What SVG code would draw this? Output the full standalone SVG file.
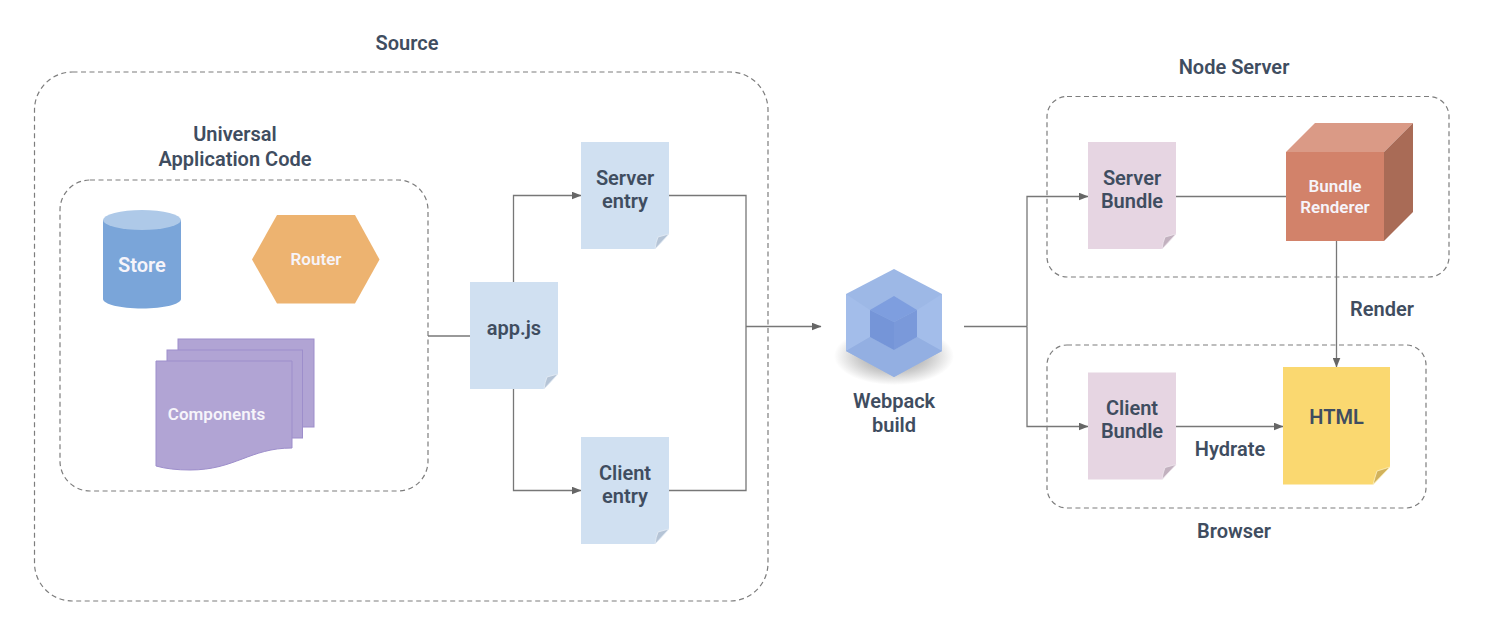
<svg xmlns="http://www.w3.org/2000/svg" width="1494" height="640" viewBox="0 0 1494 640">
<style>
text{font-family:Roboto,"Liberation Sans",sans-serif;font-weight:600;text-anchor:middle;fill:#3f4d60;font-size:20px}
.w{fill:#f6f4fa;font-size:17px}
.box{fill:none;stroke:#7d7d7d;stroke-width:1.2;stroke-dasharray:5 3.5}
.c{fill:none;stroke:#777;stroke-width:1.3}
.blue{fill:#d0e0f1}.pink{fill:#e6d5e2}
.bf{fill:#b5c4d6;stroke:#e4ecf5;stroke-width:.8}.pf{fill:#c2b1bf;stroke:#efe6ed;stroke-width:.8}
.p{fill:#b1a4d4;stroke:#9d8ecb;stroke-width:1}
</style>
<defs>
<marker id="a" markerWidth="10" markerHeight="8" refX="9.500" refY="4" markerUnits="userSpaceOnUse" orient="auto"><path d="M0 0L10 4L0 8Z" fill="#666"/></marker>
<path id="doc" d="M0 0H88V92L74 107H0Z"/>
<path id="fold" d="M74 107L88 92L77 95Q75 100 74 107Z"/>
<radialGradient id="s"><stop offset="0" stop-color="#444" stop-opacity=".65"/><stop offset=".6" stop-color="#555" stop-opacity=".3"/><stop offset="1" stop-color="#555" stop-opacity="0"/></radialGradient>
</defs>
<g id="source"><rect class="box" x="34.500" y="72" width="733.500" height="529" rx="38"/><text x="407" y="50">Source</text></g>
<g id="universal"><rect class="box" x="60" y="180" width="368" height="311" rx="30"/><text x="235" y="141">Universal</text><text x="235" y="166">Application Code</text></g>
<g id="connectors">
<path class="c" d="M428 336H470"/>
<path class="c" marker-end="url(#a)" d="M513.500 282V195.500H581"/>
<path class="c" marker-end="url(#a)" d="M513.500 388V490.500H581"/>
<path class="c" d="M669 195.500H746V490.500H669"/>
<path class="c" marker-end="url(#a)" d="M746 326.500H821"/>
<path class="c" d="M964 326.500H1027"/>
<path class="c" marker-end="url(#a)" d="M1027 326.500V196.500H1088"/>
<path class="c" marker-end="url(#a)" d="M1027 326.500V426.500H1088"/>
<path class="c" d="M1176 196.500H1286"/>
<path class="c" marker-end="url(#a)" d="M1336.500 241V367"/>
<path class="c" marker-end="url(#a)" d="M1176 426.500H1283"/>
</g>
<g id="store"><path d="M103 220V299C103 304 120 308.500 142 308.500S181 304 181 299V220Z" fill="#7aa5d9"/><ellipse cx="142" cy="220" rx="39" ry="10" fill="#aec9e8"/><text class="w" style="font-size:20px" x="142" y="272">Store</text></g>
<g id="router"><path d="M252 259.500L277 215H355L379.500 259.500L355 303.500H277Z" fill="#edb370"/><text class="w" x="316" y="265">Router</text></g>
<g id="components">
<rect class="p" x="178" y="339" width="136" height="88"/>
<rect class="p" x="167" y="350" width="135.500" height="88"/>
<path class="p" d="M156 361H292V448C250 448 235 470 190 470Q170 470 156 466Z"/>
<text class="w" x="216.500" y="420">Components</text></g>
<g id="appjs" transform="translate(470 282)"><use href="#doc" class="blue"/><use href="#fold" class="bf"/><text x="44" y="53">app.js</text></g>
<g id="server-entry" transform="translate(581 142)"><use href="#doc" class="blue"/><use href="#fold" class="bf"/><text x="44" y="42.500">Server</text><text x="44" y="65.500">entry</text></g>
<g id="client-entry" transform="translate(581 437)"><use href="#doc" class="blue"/><use href="#fold" class="bf"/><text x="44" y="42.500">Client</text><text x="44" y="65.500">entry</text></g>
<g id="webpack">
<ellipse cx="894" cy="356" rx="60" ry="29" fill="url(#s)"/>
<path d="M894 269L942 294V351L894 377L846 351V294Z" fill="#9db8e6"/>
<path d="M846 294L870 310V337L846 351Z M942 294L917 310V337L942 351Z" fill="#a3bdea"/>
<path d="M846 351L870 337L894 350L917 337L942 351L894 377Z" fill="#93afe2"/>
<path d="M894 296L917 310L894 322L870 310Z" fill="#7e9edf"/>
<path d="M870 310L894 322V350L870 337Z" fill="#7595d8"/>
<path d="M917 310L894 322V350L917 337Z" fill="#7a99da"/>
<text x="894" y="408">Webpack</text><text x="894" y="431.500">build</text></g>
<g id="node-server"><rect class="box" x="1047" y="96.500" width="402" height="180.500" rx="20"/><text x="1234" y="74">Node Server</text></g>
<g id="browser"><rect class="box" x="1047" y="345" width="379" height="163" rx="20"/><text x="1234" y="538">Browser</text></g>
<g id="server-bundle" transform="translate(1088 142)"><use href="#doc" class="pink"/><use href="#fold" class="pf"/><text x="44" y="42.500">Server</text><text x="44" y="65.500">Bundle</text></g>
<g id="client-bundle" transform="translate(1088 372.500)"><use href="#doc" class="pink"/><use href="#fold" class="pf"/><text x="44" y="42">Client</text><text x="44" y="65.500">Bundle</text></g>
<g id="bundle-renderer">
<path d="M1286 152L1315 123H1413L1384 152Z" fill="#da9a86"/>
<path d="M1384 152L1413 123V212L1384 241Z" fill="#a96b56"/>
<rect x="1286" y="152" width="98" height="89" fill="#d2826a"/>
<text class="w" x="1335" y="192">Bundle</text><text class="w" x="1335" y="213">Renderer</text></g>
<g id="html"><path d="M1283 367H1390V467L1373 484.500H1283Z" fill="#fad870"/><path d="M1373 484.500L1390 467L1377 471Q1375 477 1373 484.500Z" fill="#d1b25c" stroke="#fdf0c0" stroke-width=".8"/><text x="1336.500" y="424">HTML</text></g>
<text x="1382" y="316">Render</text>
<text x="1230" y="456">Hydrate</text>
</svg>
